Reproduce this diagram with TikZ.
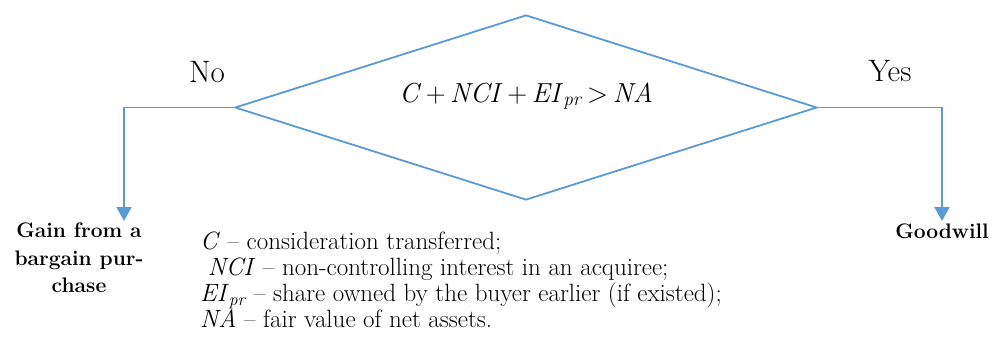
\documentclass[tikz,border=0pt]{standalone}
\usepackage{fontspec}
\usetikzlibrary{shapes.geometric, positioning, arrows.meta}
\definecolor{flowblue}{RGB}{91,155,213}

\begin{document}
\begin{tikzpicture}[x=1pt, y=-1pt,
  decision/.style={diamond, draw=flowblue, line width=1.8pt, inner sep=0pt},
  flow/.style={draw=flowblue, line width=1.8pt, -{Triangle[length=14pt, width=15pt]}},
  answer/.style={font=\fontsize{31}{34}\selectfont, inner sep=0pt},
  formula/.style={font=\fontsize{27.5}{30}\selectfont, inner sep=0pt},
  result/.style={font=\fontsize{21}{27.5}\selectfont\bfseries, align=center, inner sep=0pt},
  legend/.style={font=\fontsize{25}{25.8}\selectfont, align=left, inner sep=0pt}]

  \useasboundingbox (0,0) rectangle (992,340);

  % --- Decision ---
  \node[decision, minimum width=582pt, minimum height=185pt] (cond) at (526,107.5) {};
  \node[formula] (eqn) at (526,96)
    {\textit{C}\,+\,\textit{NCI}\,+\,\textit{EI}\textsubscript{\textit{pr}}\,>\,\textit{NA}};

  % --- Branch labels ---
  \node[answer] (no) at (207,72) {No};
  \node[answer] (yes) at (890,71) {Yes};

  % --- Outcomes ---
  \coordinate (gaintip) at (124,221);
  \node[result, anchor=north] (gain) at (79,223) {Gain from a\\bargain pur-\\chase};
  \node[result, anchor=north] (goodwill) at (942,224) {Goodwill};

  % --- Connectors ---
  \draw[flow] (cond.west) -| (gaintip);
  \draw[flow, shorten >=3pt] (cond.east) -| (goodwill.north);

  % --- Legend ---
  \node[legend, anchor=north west] (legend) at (200,232)
    {\textit{C} -- consideration transferred;\\
     \ \textit{NCI} -- non-controlling interest in an acquiree;\\
     \textit{EI}\textsubscript{\textit{pr}} -- share owned by the buyer earlier (if existed);\\
     \textit{NA} -- fair value of net assets.};

\end{tikzpicture}
\end{document}
